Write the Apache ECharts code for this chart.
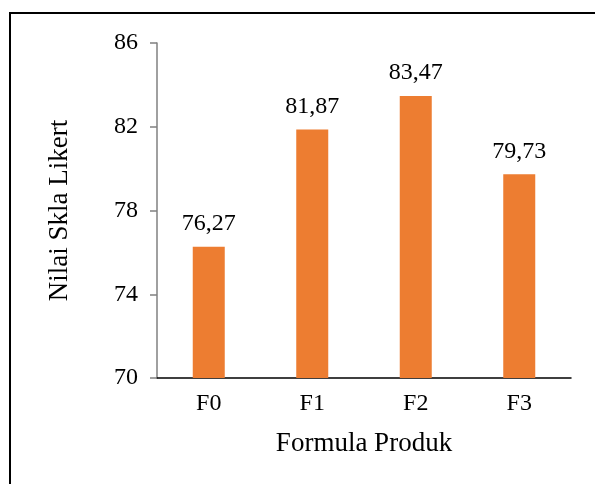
<!DOCTYPE html>
<html>
<head>
<meta charset="utf-8">
<script src="https://cdn.jsdelivr.net/npm/echarts@6/dist/echarts.min.js"></script>
<style>
  html, body { margin: 0; padding: 0; background: #fff; }
  #chart { width: 595px; height: 484px; }
</style>
</head>
<body>
<div id="chart"></div>
<script>
// Likert scale scores per product formula
const categories = ['F0', 'F1', 'F2', 'F3'];
const scores = [76.27, 81.87, 83.47, 79.73];
const yTicks = [70, 74, 78, 82, 86];

const font = '"Liberation Serif", "Times New Roman", serif';
const chart = echarts.init(document.getElementById('chart'));

chart.setOption({
  animation: false,
  graphic: [{
    type: 'rect',
    shape: { x: 10, y: 13, width: 600, height: 500 },
    style: { fill: 'none', stroke: '#000', lineWidth: 2 },
    silent: true
  }],
  grid: { left: 157, right: 24, top: 43, bottom: 106 },
  xAxis: {
    type: 'category',
    data: categories,
    name: 'Formula Produk',
    nameLocation: 'middle',
    nameGap: 52,
    nameTextStyle: { fontFamily: font, fontSize: 27, color: '#000' },
    axisLine: { lineStyle: { color: '#000', width: 1.5 } },
    axisTick: { show: false },
    axisLabel: { fontFamily: font, fontSize: 24, color: '#000', margin: 14 }
  },
  yAxis: {
    type: 'value',
    min: yTicks[0],
    max: yTicks[yTicks.length - 1],
    interval: 4,
    name: 'Nilai Skla Likert',
    nameLocation: 'middle',
    nameGap: 84,
    nameRotate: 90,
    nameTextStyle: { fontFamily: font, fontSize: 27, color: '#000' },
    axisLine: { show: true, lineStyle: { color: '#808080', width: 1.5 } },
    axisTick: { show: true, length: 7, lineStyle: { color: '#808080', width: 1.5 } },
    splitLine: { show: false },
    axisLabel: { fontFamily: font, fontSize: 24, color: '#000', margin: 19 }
  },
  series: [{
    type: 'bar',
    data: scores,
    barWidth: 32,
    itemStyle: { color: '#ED7D31' },
    label: {
      show: true,
      position: 'top',
      distance: 11,
      fontFamily: font,
      fontSize: 24,
      color: '#000',
      formatter: p => p.value.toFixed(2).replace('.', ',')
    }
  }]
});
</script>
</body>
</html>
